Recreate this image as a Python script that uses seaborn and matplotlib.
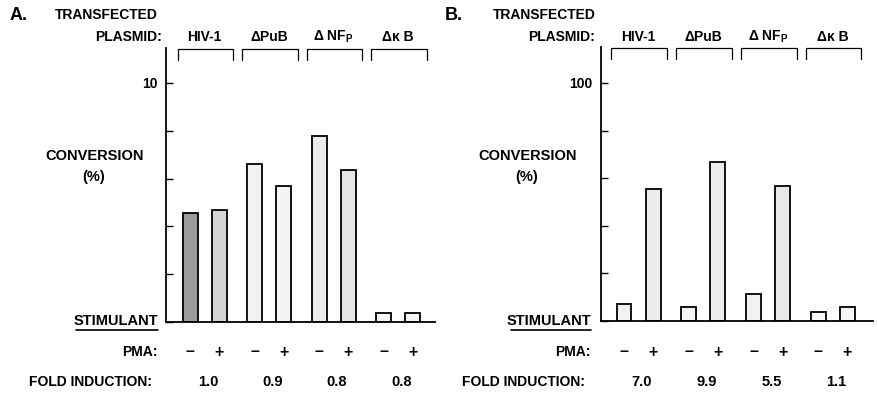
"""
Two-panel CAT conversion bar chart (panel A: scale 0-10, panel B: scale 0-100).
"""

import matplotlib
matplotlib.use("Agg")
import matplotlib.pyplot as plt
import matplotlib.transforms as mtransforms
from matplotlib.lines import Line2D
import pandas as pd
import seaborn as sns

# ---- data ----
plasmids = ["HIV-1", "dPuB", "dNFP", "dkB"]
plasmid_labels = ["HIV-1", "\u0394PuB", "\u0394 NF$_\\mathbf{P}$", "\u0394\u03ba B"]
pma_levels = ["-", "+"]

conv_a_minus = [4.57, 6.60, 7.80, 0.39]
conv_a_plus = [4.69, 5.69, 6.36, 0.39]
conv_b_minus = [7.3, 5.9, 11.3, 3.9]
conv_b_plus = [55.5, 67.0, 56.6, 5.9]

fold_a = ["1.0", "0.9", "0.8", "0.8"]
fold_b = ["7.0", "9.9", "5.5", "1.1"]

yticks_a = [0, 2, 4, 6, 8, 10]
yticks_b = [0, 20, 40, 60, 80, 100]

# ---- style ----
W, H = 878, 393
sns.set_theme(style="white")
plt.rcParams["font.family"] = ["Liberation Sans", "DejaVu Sans"]
plt.rcParams["font.weight"] = "bold"
plt.rcParams["text.color"] = "black"
plt.rcParams["ytick.color"] = "black"
plt.rcParams["mathtext.fontset"] = "custom"
plt.rcParams["mathtext.bf"] = "Liberation Sans:bold"
plt.rcParams["mathtext.rm"] = "Liberation Sans:bold"

# fill shades per bar (minus row, plus row) -- stippled look approximated by grey
shades_a = [["#9c9c9c", "#f2f2f2", "#ebebeb", "#f6f6f6"],
            ["#d6d6d6", "#f4f4f4", "#e6e6e6", "#f6f6f6"]]
shades_b = [["#f2f2f2", "#f6f6f6", "#f2f2f2", "#f6f6f6"],
            ["#ececec", "#ececec", "#e8e8e8", "#f6f6f6"]]

fig = plt.figure(figsize=(W / 100, H / 100), dpi=100)


def px(x, y):
    return x / W, 1 - y / H


def ftext(x, y, s, **kw):
    fx, fy = px(x, y)
    kw.setdefault("fontsize", 10)
    kw.setdefault("fontweight", "bold")
    kw.setdefault("va", "center")
    kw.setdefault("color", "black")
    fig.text(fx, fy, s, **kw)


def panel(left, right, bottom, top, minus, plus, yticks, ymax, shades, folds, xlim):
    ax = fig.add_axes([left / W, 1 - bottom / H, (right - left) / W, (bottom - top) / H])
    df = pd.DataFrame({
        "plasmid": plasmids * 2,
        "pma": [pma_levels[0]] * 4 + [pma_levels[1]] * 4,
        "conversion": minus + plus,
    })
    sns.barplot(data=df, x="plasmid", y="conversion", hue="pma", order=plasmids,
                hue_order=pma_levels, width=0.9, gap=0.49, legend=False,
                palette=["white", "white"], edgecolor="black", linewidth=1.3,
                errorbar=None, ax=ax)
    for row, cont in enumerate(ax.containers):
        for bar, c in zip(cont, shades[row]):
            bar.set_facecolor(c)

    ax.set_xlim(*xlim)
    ax.set_ylim(0, ymax)
    ax.set_yticks(yticks)
    ax.set_yticklabels([""] * (len(yticks) - 1) + [str(yticks[-1])],
                       fontsize=10, fontweight="bold", color="black")
    ax.tick_params(axis="y", direction="in", length=5, width=1, pad=6, left=True,
                   colors="black")
    ax.set_xticks([])
    ax.set_xlabel("")
    ax.set_ylabel("")
    for s in ["top", "right"]:
        ax.spines[s].set_visible(False)
    for s in ["left", "bottom"]:
        ax.spines[s].set_color("black")
        ax.spines[s].set_linewidth(1.3)

    # brackets over each plasmid group
    trans_ax = mtransforms.blended_transform_factory(ax.transData, ax.transAxes)
    for g in range(len(plasmids)):
        ax.plot([g - 0.42, g - 0.42, g + 0.44, g + 0.44], [0.955, 0.995, 0.995, 0.955],
                color="black", lw=0.9, transform=trans_ax, clip_on=False)

    # group labels, PMA signs and fold induction, placed from data x
    trans_fig = mtransforms.blended_transform_factory(ax.transData, fig.transFigure)
    for g, lab in enumerate(plasmid_labels):
        ax.text(g, 1 - 37 / H, lab, transform=trans_fig, ha="center", va="center",
                fontsize=10, fontweight="bold", color="black")
        ax.text(g + 0.05, 1 - 382 / H, folds[g], transform=trans_fig, ha="center",
                va="center", fontsize=10.5, fontweight="bold", color="black")
    for row, cont in enumerate(ax.containers):
        for bar in cont:
            xc = bar.get_x() + bar.get_width() / 2
            ax.text(xc, 1 - 352 / H, "\u2013" if row == 0 else "+", transform=trans_fig,
                    ha="center", va="center", fontsize=11.5, fontweight="bold",
                    color="black")
    return ax


panel(166, 435, 322, 48, conv_a_minus, conv_a_plus, yticks_a, 274 / 23.9,
      shades_a, fold_a, (-0.60, 3.57))
panel(601, 873, 321, 47, conv_b_minus, conv_b_plus, yticks_b, 274 / 2.38,
      shades_b, fold_b, (-0.58, 3.62))

# ---- panel texts ----
for x0, letter, tf_x, pl_r, conv_c, stim_r, stim_l in [
        (10, "A.", 55, 162, 95, 158, 76),
        (445, "B.", 493, 595, 528, 591, 511)]:
    ftext(x0, 15, letter, fontsize=13, ha="left")
    ftext(tf_x, 15, "TRANSFECTED", ha="left")
    ftext(pl_r, 37, "PLASMID:", ha="right")
    ftext(conv_c, 156, "CONVERSION", ha="center", fontsize=10.5)
    ftext(conv_c - 1, 177, "(%)", ha="center", fontsize=10.5)
    ftext(stim_r, 321, "STIMULANT", ha="right", fontsize=10.5)
    fig.add_artist(Line2D([stim_l / W, stim_r / W], [1 - 330 / H, 1 - 330 / H],
                          color="black", lw=1.2, transform=fig.transFigure))
    ftext(stim_r, 352, "PMA:", ha="right")
    ftext(stim_r - 6, 382, "FOLD INDUCTION:", ha="right")

fig.savefig("out.png", dpi=100, facecolor="white")
